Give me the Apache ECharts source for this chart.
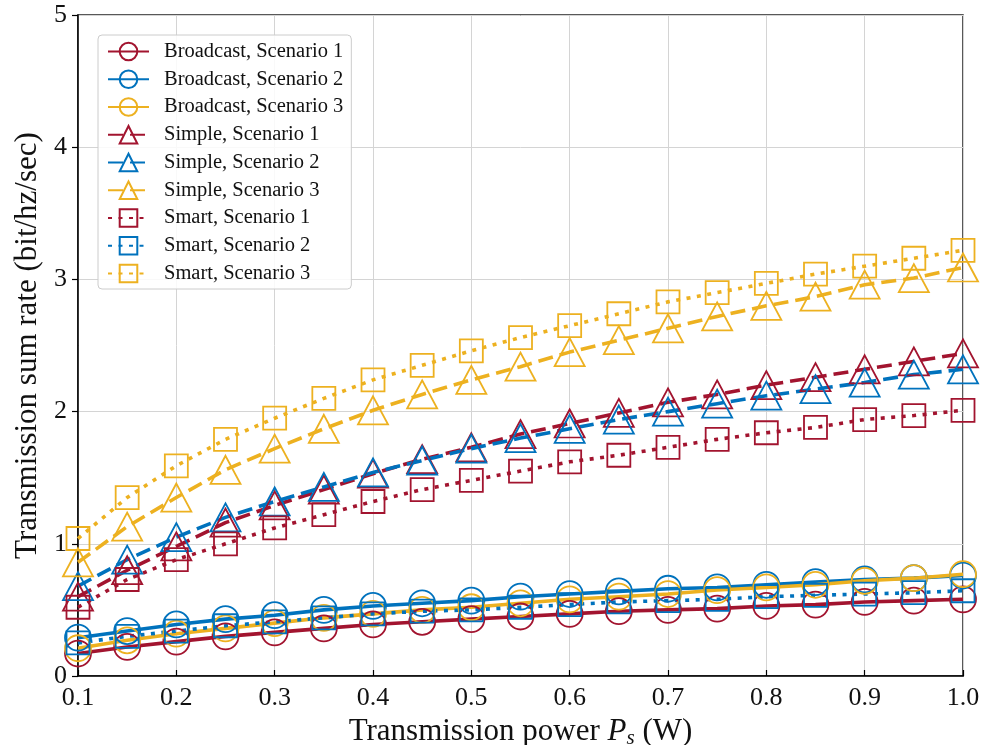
<!DOCTYPE html>
<html>
<head>
<meta charset="utf-8">
<script src="https://cdn.jsdelivr.net/npm/echarts@6/dist/echarts.min.js"></script>
<style>html,body{margin:0;padding:0;background:#fff}#c{width:982px;height:745px}</style>
</head>
<body>
<div id="c"></div>
<script>
const xValues = [0.1,0.15,0.2,0.25,0.3,0.35,0.4,0.45,0.5,0.55,0.6,0.65,0.7,0.75,0.8,0.85,0.9,0.95,1.0];
const xTicks = [0.1,0.2,0.3,0.4,0.5,0.6,0.7,0.8,0.9,1.0];
const yTicks = [0,1,2,3,4,5];

const broadcast1 = [0.17,0.22,0.26,0.30,0.33,0.36,0.39,0.41,0.43,0.45,0.47,0.49,0.50,0.51,0.53,0.54,0.56,0.57,0.58];
const broadcast2 = [0.29,0.34,0.39,0.43,0.46,0.50,0.53,0.55,0.57,0.60,0.62,0.64,0.66,0.67,0.69,0.71,0.73,0.74,0.76];
const broadcast3 = [0.21,0.27,0.32,0.36,0.40,0.44,0.47,0.50,0.52,0.55,0.58,0.60,0.62,0.65,0.67,0.69,0.72,0.74,0.77];
const simple1 = [0.60,0.80,0.98,1.16,1.29,1.41,1.53,1.64,1.73,1.83,1.91,1.99,2.07,2.13,2.20,2.26,2.32,2.38,2.44];
const simple2 = [0.68,0.88,1.05,1.20,1.32,1.43,1.54,1.63,1.72,1.80,1.87,1.94,2.00,2.06,2.12,2.17,2.22,2.28,2.32];
const simple3 = [0.86,1.13,1.35,1.56,1.72,1.87,2.01,2.13,2.24,2.34,2.45,2.54,2.63,2.72,2.80,2.87,2.96,3.01,3.09];
const smart1 = [0.52,0.73,0.88,1.00,1.12,1.22,1.32,1.41,1.48,1.55,1.62,1.67,1.73,1.79,1.84,1.88,1.94,1.97,2.01];
const smart2 = [0.25,0.30,0.34,0.38,0.41,0.44,0.47,0.49,0.50,0.52,0.54,0.56,0.57,0.58,0.60,0.61,0.62,0.63,0.645];
const smart3 = [1.04,1.35,1.59,1.79,1.95,2.10,2.24,2.35,2.46,2.56,2.65,2.74,2.83,2.90,2.97,3.04,3.10,3.16,3.22];

const RED = '#A2142F', BLUE = '#0072BD', YEL = '#EDB120';
const FONT = '"Liberation Serif", "DejaVu Serif", serif';

function mk(name, data, color, kind) {
  let symbol, size, lineType;
  if (kind === 'b') { symbol = 'circle'; size = 26; lineType = 'solid'; }
  else if (kind === 's') { symbol = 'triangle'; size = [30, 28]; lineType = [15, 7]; }
  else { symbol = 'rect'; size = 23; lineType = [4, 6.5]; }
  return {
    name: name,
    type: 'line',
    data: xValues.map((x, i) => [x, data[i]]),
    symbol: symbol,
    symbolSize: size,
    showAllSymbol: true,
    color: color,
    lineStyle: { color: color, width: 3.6, type: lineType, cap: 'butt' },
    itemStyle: { color: 'rgba(255,255,255,0)', borderColor: color, borderWidth: 1.8 },
    emphasis: { disabled: true },
    animation: false,
    z: 3
  };
}

const series = [
  mk('Broadcast, Scenario 1', broadcast1, RED, 'b'),
  mk('Broadcast, Scenario 2', broadcast2, BLUE, 'b'),
  mk('Broadcast, Scenario 3', broadcast3, YEL, 'b'),
  mk('Simple, Scenario 1', simple1, RED, 's'),
  mk('Simple, Scenario 2', simple2, BLUE, 's'),
  mk('Simple, Scenario 3', simple3, YEL, 's'),
  mk('Smart, Scenario 1', smart1, RED, 'm'),
  mk('Smart, Scenario 2', smart2, BLUE, 'm'),
  mk('Smart, Scenario 3', smart3, YEL, 'm')
];

const chart = echarts.init(document.getElementById('c'), null, { renderer: 'canvas' });
chart.setOption({
  animation: false,
  backgroundColor: '#fff',
  grid: { left: 78, right: 19, top: 15, bottom: 69, show: true, borderColor: '#222', borderWidth: 1.5,
          containLabel: false, outerBoundsMode: 'none' },
  legend: {
    orient: 'vertical',
    left: 98, top: 35,
    padding: [6, 8, 5, 9],
    itemGap: 6.75,
    itemWidth: 41, itemHeight: 22,
    backgroundColor: 'rgba(255,255,255,0.85)',
    borderColor: '#cccccc', borderWidth: 1, borderRadius: 4,
    textStyle: { fontFamily: FONT, fontSize: 20.5, color: '#111', padding: [0, 0, 0, 10] },
    data: series.map(s => s.name)
  },
  xAxis: {
    type: 'value', min: 0.1, max: 1.0, interval: 0.1,
    axisLine: { show: true, lineStyle: { color: '#000', width: 1.5 } },
    axisTick: { show: true, inside: true, length: 6, lineStyle: { color: '#000', width: 1.2 } },
    axisLabel: { fontFamily: FONT, fontSize: 26, color: '#111', margin: 9,
      formatter: v => (Math.round(v * 10) / 10).toFixed(1) },
    splitLine: { show: true, lineStyle: { color: '#d4d4d4', width: 1 } },
    name: '{t|Transmission power }{i|P}{sub|s}{t| (W)}',
    nameLocation: 'middle', nameGap: 37,
    nameTextStyle: { fontFamily: FONT, fontSize: 31, color: '#111',
      rich: {
        t: { fontFamily: FONT, fontSize: 31, color: '#111' },
        i: { fontFamily: FONT, fontSize: 31, fontStyle: 'italic', color: '#111' },
        sub: { fontFamily: FONT, fontSize: 21, fontStyle: 'italic', color: '#111', padding: [14, 0, 0, 0] }
      } }
  },
  yAxis: {
    type: 'value', min: 0, max: 5, interval: 1,
    axisLine: { show: true, lineStyle: { color: '#000', width: 1.5 } },
    axisTick: { show: true, inside: false, length: 6, lineStyle: { color: '#000', width: 1.2 } },
    axisLabel: { fontFamily: FONT, fontSize: 26, color: '#111', margin: 11 },
    splitLine: { show: true, lineStyle: { color: '#d4d4d4', width: 1 } },
    name: 'Transmission sum rate (bit/hz/sec)',
    nameLocation: 'middle', nameGap: 29,
    nameTextStyle: { fontFamily: FONT, fontSize: 31, color: '#111' }
  },
  series: series
});
</script>
</body>
</html>
